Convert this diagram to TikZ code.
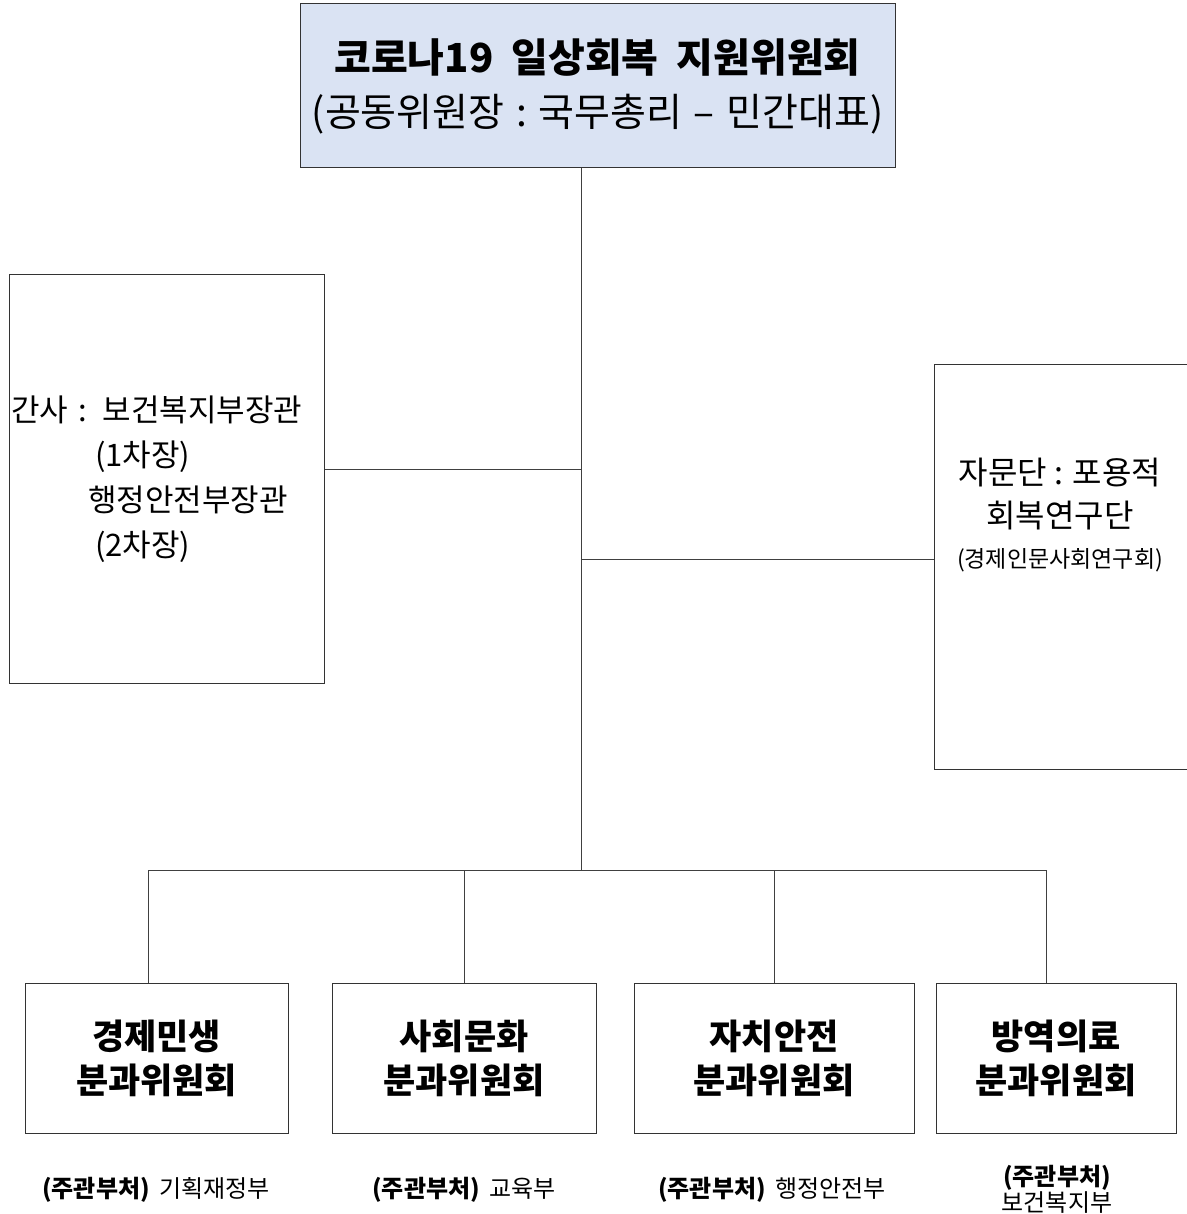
\documentclass[tikz,border=0pt]{standalone}
\usepackage{fontspec}
\setmainfont{Noto Sans CJK KR}
\definecolor{topblue}{HTML}{DAE3F3}

\begin{document}
\begin{tikzpicture}[x=1pt, y=-1pt,
  box/.style={draw=black!80, line width=1pt, inner sep=0pt, align=center},
  wire/.style={draw=black!75, line width=0.9pt},
  sub/.style={box, minimum height=150pt, font=\bfseries\fontsize{35}{44}\selectfont},
  note/.style={font=\fontsize{24}{23}\selectfont, align=center}]
\useasboundingbox (0,0) rectangle (1186,1214);
\node[box, fill=topblue, minimum width=595pt, minimum height=164pt, font=\fontsize{39}{54}\selectfont] (head) at (597.5,86)
  {{\bfseries\fontsize{40}{54}\selectfont 코로나19\hspace{.45em}일상회복\hspace{.45em}지원위원회}\\(공동위원장\hspace{.3em}:\hspace{.3em}국무총리\hspace{.3em}–\hspace{.3em}민간대표)};
\node[box, minimum width=315pt, minimum height=409pt, text width=311pt, align=left, font=\fontsize{31}{45}\selectfont] (staff) at (166.5,479)
  {간사 : 보건복지부장관\\\hspace*{84pt}(1차장)\\\hspace*{77pt}행정안전부장관\\\hspace*{84pt}(2차장)};
\node[box, minimum width=256pt, minimum height=405pt] (advice) at (1062,566.5) {};
\node[align=center, font=\fontsize{32}{43}\selectfont] (advicetext) at (1060,515)
  {자문단 : 포용적\\회복연구단\\[-3pt]{\fontsize{23}{24}\selectfont(경제인문사회연구회)}};
\node[sub, minimum width=263pt] (econ) at (156.5,1058) {경제민생\\분과위원회};
\node[sub, minimum width=264pt] (soc) at (464,1058) {사회문화\\분과위원회};
\node[sub, minimum width=280pt] (safe) at (774,1058) {자치안전\\분과위원회};
\node[sub, minimum width=240pt] (med) at (1056,1058) {방역의료\\분과위원회};
\node[note] (econnote) at (156,1190) {{\bfseries(주관부처)}\hspace{.4em}기획재정부};
\node[note] (socnote) at (464,1190) {{\bfseries(주관부처)}\hspace{.4em}교육부};
\node[note] (safenote) at (772,1190) {{\bfseries(주관부처)}\hspace{.4em}행정안전부};
\node[note] (mednote) at (1057,1189) {{\bfseries(주관부처)}\\보건복지부};
\coordinate (tl) at (581,469);
\coordinate (tr) at (581,559);
\coordinate (bus) at (581,870);
\draw[wire] (head.south -| bus) -- (bus);
\draw[wire] (tl) -- (tl -| staff.east);
\draw[wire] (tr) -- (tr -| advice.west);
\draw[wire] ([xshift=-8.5pt]econ.north) |- ([xshift=-10pt]med.north |- bus) -- ([xshift=-10pt]med.north);
\draw[wire] (soc.north) -- (soc.north |- bus);
\draw[wire] (safe.north) -- (safe.north |- bus);
\end{tikzpicture}
\end{document}
